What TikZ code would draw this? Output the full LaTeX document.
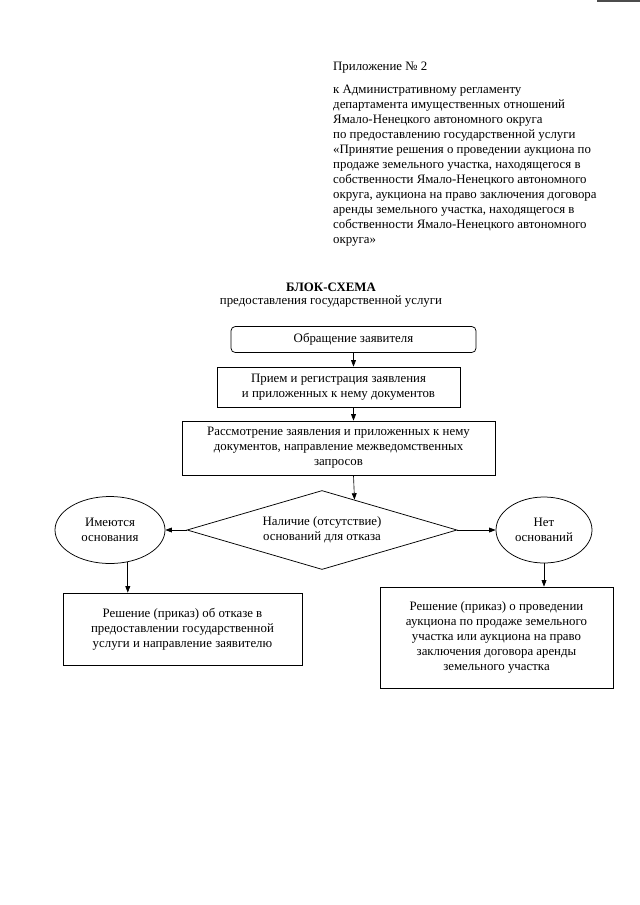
\documentclass[tikz,border=0pt]{standalone}
\usepackage{fontspec}
\setmainfont{Liberation Serif}
\usetikzlibrary{shapes.geometric,arrows.meta,calc}
\newcommand{\pxl}{0.328125mm}
\begin{document}
\begin{tikzpicture}[x=\pxl,y=-\pxl,
        font=\fontsize{12}{14}\selectfont,
        box/.style={draw,line width=0.7pt,align=center,inner sep=1pt},
        oval/.style={draw,ellipse,line width=0.7pt,align=center,inner sep=0pt},
        arr/.style={-{Triangle[length=6pt,width=4.5pt]},line width=0.6pt}]
        \useasboundingbox (0,0) rectangle (640,905);
        \draw[line width=1.4pt,black!70] (597,1) -- (640,1);

        \node[anchor=west,inner sep=0] (appx) at (333,68) {Приложение № 2};
        \node[anchor=north west,align=left,inner sep=0] (reg) at (333,84.5) {к Административному регламенту\\
            департамента имущественных отношений\\
            Ямало-Ненецкого автономного округа\\
            по предоставлению государственной услуги\\
            «Принятие решения о проведении аукциона по\\
            продаже земельного участка, находящегося в\\
            собственности Ямало-Ненецкого автономного\\
            округа, аукциона на право заключения договора\\
            аренды земельного участка, находящегося в\\
            собственности Ямало-Ненецкого автономного\\
            округа»};

        \node[font=\fontsize{12}{14}\selectfont\bfseries] (ttl) at (331,287) {БЛОК-СХЕМА};
        \node (sub) at (331,301) {предоставления государственной услуги};

        \node[box,rounded corners=4pt,minimum width=245*\pxl,minimum height=26*\pxl] (obr) at (353.5,339.5) {Обращение заявителя};
        \node[box,minimum width=243*\pxl,minimum height=40*\pxl] (prm) at (338.5,387) {Прием и регистрация заявления\\и приложенных к нему документов};
        \node[box,minimum width=313*\pxl,minimum height=54*\pxl] (rsm) at (338.5,448) {Рассмотрение заявления и приложенных к нему\\документов, направление межведомственных\\запросов};
        \node[draw,diamond,line width=0.7pt,align=center,inner sep=0pt,aspect=3.4,minimum width=270*\pxl,minimum height=79*\pxl] (nal) at (322,530) {Наличие (отсутствие)\\оснований для отказа};
        \node[oval,minimum width=110*\pxl,minimum height=67*\pxl] (imt) at (110,530) {Имеются\\основания};
        \node[oval,minimum width=96*\pxl,minimum height=66*\pxl] (net) at (544,530) {Нет\\оснований};
        \node[box,minimum width=239*\pxl,minimum height=72*\pxl] (rsh) at (182.5,629) {Решение (приказ) об отказе в\\предоставлении государственной\\услуги и направление заявителю};
        \node[box,minimum width=233*\pxl,minimum height=101*\pxl] (rsr) at (496.5,637.5) {Решение (приказ) о проведении\\аукциона по продаже земельного\\участка или аукциона на право\\заключения договора аренды\\земельного участка};

        \draw[arr] (obr.south) -- (obr.south |- prm.north);
        \draw[arr] (prm.south -| obr.south) -- (rsm.north -| obr.south);
        \draw[arr] (rsm.south -| obr.south) -- ($(nal.north)!.24!(nal.east)$);
        \draw[arr] (nal.west) -- (imt.east);
        \draw[arr] (nal.east) -- (net.west);
        \draw[arr] (imt.299) -- (imt.299 |- rsh.north);
        \draw[arr] (net.south) -- (net.south |- rsr.north);
    \end{tikzpicture}
\end{document}
